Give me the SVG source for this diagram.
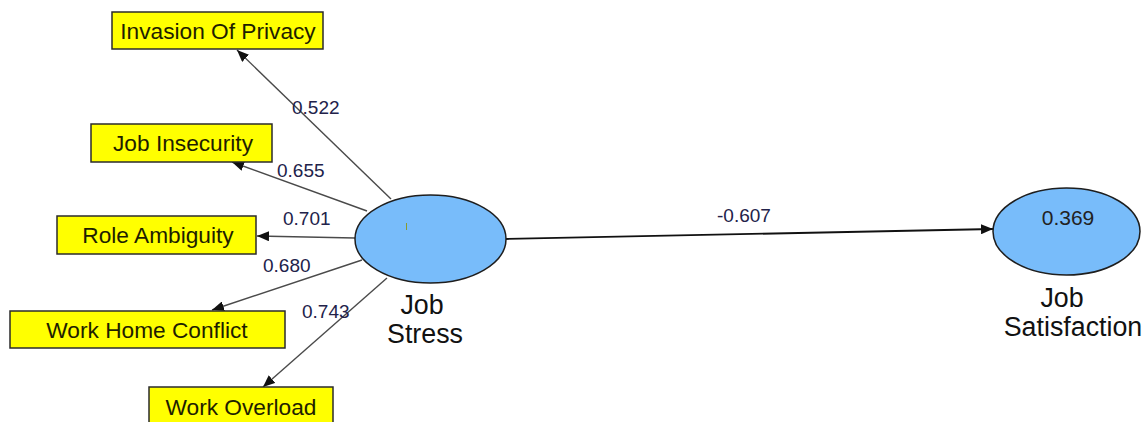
<svg xmlns="http://www.w3.org/2000/svg" width="1148" height="422" viewBox="0 0 1148 422">
  <style>
    .ind rect { fill: #ffff00; stroke: #2b2b2b; stroke-width: 1.5; }
    .ind text { font-family: "Liberation Sans", Arial, sans-serif; font-size: 22.7px; fill: #1e1e00; text-anchor: middle; }
    .lat ellipse { fill: #78bcfa; stroke: #1e1e1e; stroke-width: 1.5; }
    .lat text { font-family: "Liberation Sans", Arial, sans-serif; font-size: 26.8px; fill: #111; text-anchor: middle; }
    .lat text.r2 { font-size: 21px; fill: #222; }
    .edge { stroke: #4a4a4a; stroke-width: 1.4; fill: none; marker-end: url(#ah); }
    .edge.main { stroke: #111; stroke-width: 1.8; }
    .w { font-family: "Liberation Sans", Arial, sans-serif; font-size: 19px; fill: #22224a; }
  </style>
  <defs>
    <marker id="ah" viewBox="0 0 12 10" refX="12" refY="5" markerWidth="12" markerHeight="10" markerUnits="userSpaceOnUse" orient="auto">
      <path d="M0,0 L12,5 L0,10 Z" fill="#111"/>
    </marker>
  </defs>

  <!-- paths from Job Stress to its indicators and to Job Satisfaction -->
  <g id="connectors">
    <line class="edge" x1="391" y1="199" x2="237" y2="50"/>
    <line class="edge" x1="367" y1="211" x2="232" y2="162"/>
    <line class="edge" x1="355" y1="238" x2="257" y2="236"/>
    <line class="edge" x1="362" y1="260" x2="212" y2="310"/>
    <line class="edge" x1="387" y1="278" x2="263" y2="387"/>
    <line class="edge main" x1="506" y1="239" x2="993" y2="229"/>
    <text class="w" x="292" y="114">0.522</text>
    <text class="w" x="277" y="177">0.655</text>
    <text class="w" x="283" y="225">0.701</text>
    <text class="w" x="263" y="272">0.680</text>
    <text class="w" x="302" y="318">0.743</text>
    <text class="w" x="717" y="222">-0.607</text>
  </g>

  <!-- indicator boxes -->
  <g id="invasion-of-privacy" class="ind">
    <rect x="112" y="12" width="211" height="37"/>
    <text x="218" y="39">Invasion Of Privacy</text>
  </g>
  <g id="job-insecurity" class="ind">
    <rect x="91" y="124" width="181" height="38"/>
    <text x="183" y="151">Job Insecurity</text>
  </g>
  <g id="role-ambiguity" class="ind">
    <rect x="57" y="216" width="199" height="38"/>
    <text x="158" y="243">Role Ambiguity</text>
  </g>
  <g id="work-home-conflict" class="ind">
    <rect x="10" y="311" width="275" height="37"/>
    <text x="147" y="338">Work Home Conflict</text>
  </g>
  <g id="work-overload" class="ind">
    <rect x="149" y="387" width="184" height="40"/>
    <text x="241" y="415">Work Overload</text>
  </g>

  <!-- latent variables -->
  <g id="job-stress" class="lat">
    <ellipse cx="430.5" cy="239" rx="75.5" ry="44"/>
    <line x1="406.5" y1="223" x2="406.5" y2="230" stroke="#8a9a30" stroke-width="1"/>
    <text x="422" y="314">Job</text>
    <text x="425" y="343">Stress</text>
  </g>
  <g id="job-satisfaction" class="lat">
    <ellipse cx="1066.5" cy="231.5" rx="73.5" ry="43.5"/>
    <text class="r2" x="1068" y="225">0.369</text>
    <text x="1062" y="307">Job</text>
    <text x="1073" y="336">Satisfaction</text>
  </g>
</svg>
